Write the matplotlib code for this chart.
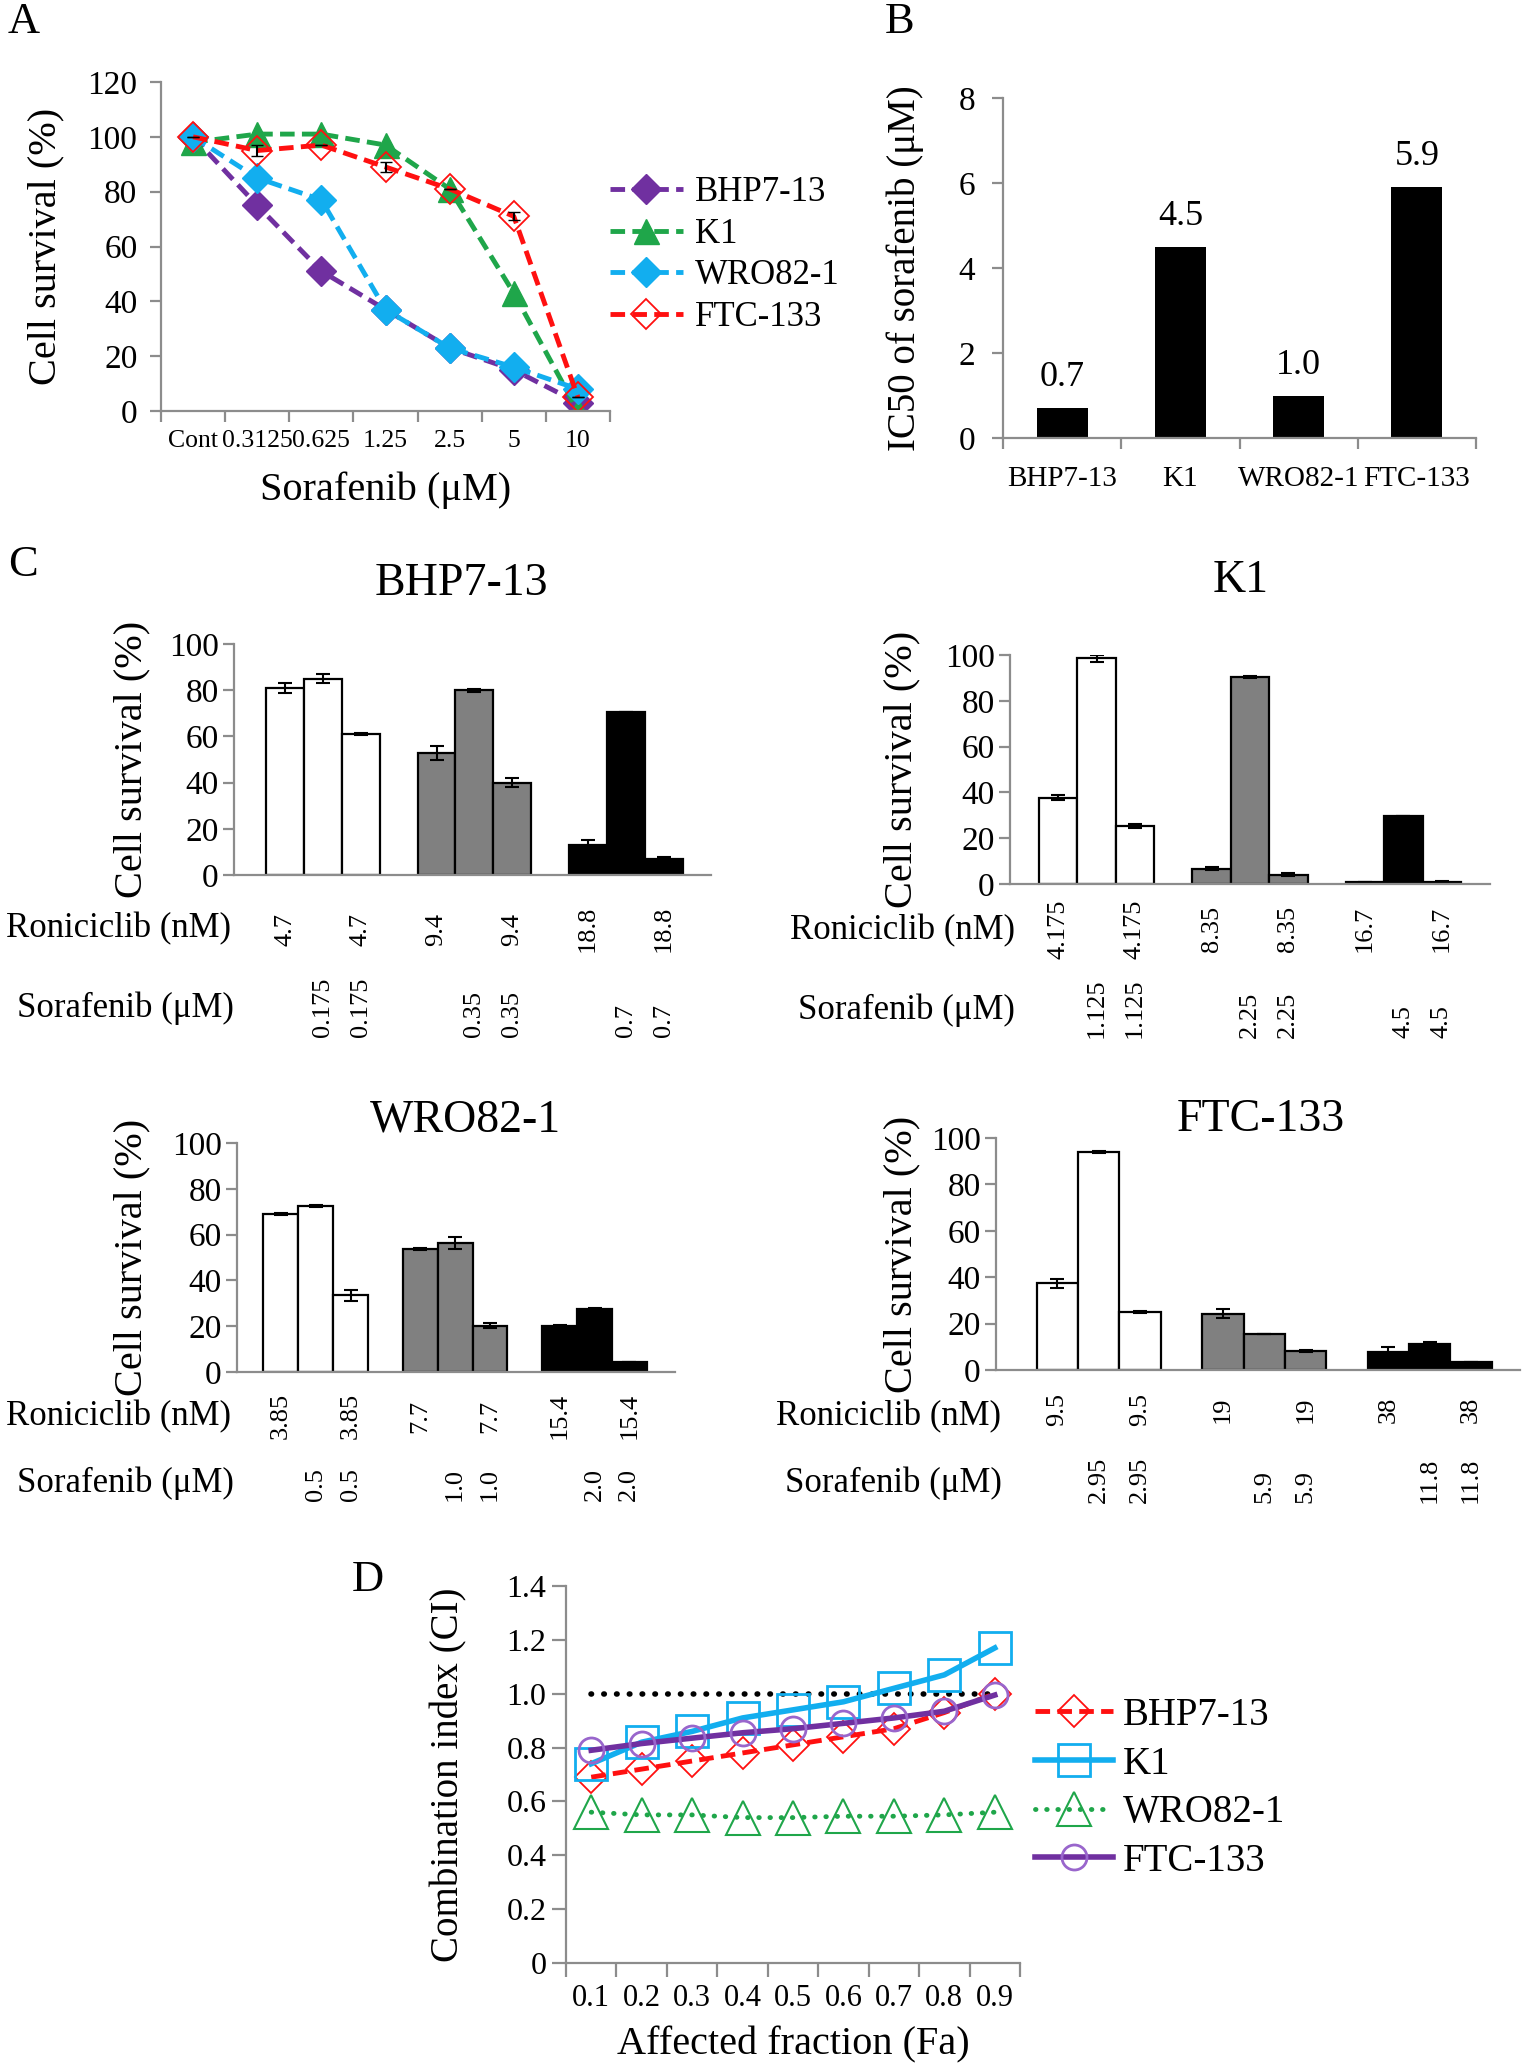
import matplotlib
matplotlib.use('Agg')
from matplotlib import pyplot as plt
from matplotlib.transforms import blended_transform_factory

plt.rcParams['font.family'] = ['Liberation Serif', 'DejaVu Serif']

W, H = 1524, 2070
GREY = '#8c8c8c'

# ---- Panel A: survival vs sorafenib dose ----
doses = ['Cont', '0.3125', '0.625', '1.25', '2.5', '5', '10']
cell_lines = ['BHP7-13', 'K1', 'WRO82-1', 'FTC-133']
surv_bhp = [100, 75, 51, 37, 23, 15, 3]
surv_k1 = [98, 101, 101, 97, 81, 43, 0]
surv_wro = [100, 85, 77, 37, 23, 16, 8]
surv_ftc = [100, 95, 97, 89, 81, 71, 5]
err_ftc = [0, 2, 0, 2, 0, 1.5, 0]

# ---- Panel B: IC50 of sorafenib ----
ic50 = [0.7, 4.5, 1.0, 5.9]

# ---- Panel C: roniciclib + sorafenib combinations ----
bhp_c = [81, 85, 61, 53, 80, 40, 13, 70.5, 7]
bhp_err = [2, 2, 0.5, 3, 0.7, 2, 2, 0, 0.7]
bhp_ron = ['4.7', '', '4.7', '9.4', '', '9.4', '18.8', '', '18.8']
bhp_sor = ['', '0.175', '0.175', '', '0.35', '0.35', '', '0.7', '0.7']

k1_c = [37.7, 98.5, 25.3, 6.7, 90.5, 4.1, 0.7, 29.9, 0.9]
k1_err = [1, 1.5, 1, 0.7, 0.5, 0.5, 0, 0, 0.5]
k1_ron = ['4.175', '', '4.175', '8.35', '', '8.35', '16.7', '', '16.7']
k1_sor = ['', '1.125', '1.125', '', '2.25', '2.25', '', '4.5', '4.5']

wro_c = [69, 72.5, 33.5, 53.7, 56.3, 20.2, 19.9, 27.5, 4.4]
wro_err = [0.5, 0.5, 2.5, 0.3, 2.5, 1, 0.5, 0.5, 0]
wro_ron = ['3.85', '', '3.85', '7.7', '', '7.7', '15.4', '', '15.4']
wro_sor = ['', '0.5', '0.5', '', '1.0', '1.0', '', '2.0', '2.0']

ftc_c = [37.3, 94, 25, 24.2, 15.5, 8.3, 7.9, 11.2, 3.3]
ftc_err = [2, 0.5, 0.5, 2, 0, 0.5, 2, 0.7, 0]
ftc_ron = ['9.5', '', '9.5', '19', '', '19', '38', '', '38']
ftc_sor = ['', '2.95', '2.95', '', '5.9', '5.9', '', '11.8', '11.8']

# ---- Panel D: combination index vs affected fraction ----
fa = ['0.1', '0.2', '0.3', '0.4', '0.5', '0.6', '0.7', '0.8', '0.9']
ci_bhp = [0.69, 0.72, 0.75, 0.78, 0.81, 0.84, 0.87, 0.93, 1.00]
ci_k1 = [0.74, 0.82, 0.86, 0.91, 0.94, 0.97, 1.02, 1.07, 1.17]
ci_wro = [0.56, 0.55, 0.55, 0.54, 0.54, 0.545, 0.545, 0.55, 0.56]
ci_ftc = [0.79, 0.815, 0.835, 0.855, 0.87, 0.89, 0.91, 0.935, 0.995]

fig = plt.figure(figsize=(W / 100, H / 100), dpi=100)


def px_axes(left, top, right, bottom):
    """Axes placed by pixel box (y measured from the top)"""
    return fig.add_axes([left / W, 1 - bottom / H, (right - left) / W, (bottom - top) / H])


def put(x, y, s, **kw):
    fig.text(x / W, 1 - y / H, s, **kw)


def excel_axes(ax, tick_len=8):
    for side in ['top', 'right']:
        ax.spines[side].set_visible(False)
    for side in ['left', 'bottom']:
        ax.spines[side].set_color(GREY)
        ax.spines[side].set_linewidth(1.6)
    ax.tick_params(color=GREY, width=1.6, length=tick_len, direction='out')


def category_ticks(ax, labels, size, pad):
    # Excel style: tick marks between categories, labels at category centres
    n = len(labels)
    ax.set_xlim(-0.5, n - 0.5)
    ax.set_xticks([i - 0.5 for i in range(n + 1)])
    ax.set_xticklabels([])
    ax.set_xticks(range(n), minor=True)
    ax.set_xticklabels(labels, minor=True, fontsize=size)
    ax.tick_params(axis='x', which='minor', length=0, pad=pad)


def ylabel_at(ax, text, x_px, size):
    # centre the rotated label on a given pixel column
    ax.set_ylabel(text, fontsize=size, va='center')
    pos = ax.get_position()
    ax.yaxis.set_label_coords((x_px / W - pos.x0) / pos.width, 0.5)


# ================= A =================
put(8, 2, 'A', fontsize=32, va='top')
ax_a = px_axes(161, 82, 610, 411)
excel_axes(ax_a)
xa = range(len(doses))
dash = (0, (3, 1.5))
ax_a.plot(xa, surv_bhp, linestyle=dash, lw=3.5, color='#7030A0', marker='D', ms=15, label=cell_lines[0])
ax_a.plot(xa, surv_k1, linestyle=dash, lw=3.5, color='#1FA64A', marker='^', ms=18, label=cell_lines[1])
ax_a.plot(xa, surv_wro, linestyle=dash, lw=3.5, color='#12AEEF', marker='D', ms=15, label=cell_lines[2])
ax_a.plot(xa, surv_ftc, linestyle=dash, lw=3.5, color='#FF1010', marker='D', ms=15, mfc='none', mew=1.3,
          label=cell_lines[3])
ax_a.errorbar(xa, surv_ftc, yerr=err_ftc, fmt='none', ecolor='black', elinewidth=1.5, capsize=4)
ax_a.set_ylim(0, 120)
ax_a.set_yticks(range(0, 121, 20))
ax_a.tick_params(axis='y', labelsize=24, pad=9)
category_ticks(ax_a, doses, 18.5, 14)
ax_a.set_xlabel('Sorafenib (μM)', fontsize=29, labelpad=14)
ylabel_at(ax_a, 'Cell survival (%)', 46, 29)
ax_a.legend(loc='upper left', bbox_to_anchor=(610 / W, 1 - 176 / H), bbox_transform=fig.transFigure,
            frameon=False, fontsize=25, handlelength=2.1, handletextpad=0.35, labelspacing=0.25,
            borderpad=0, borderaxespad=0)

# ================= B =================
put(885, 2, 'B', fontsize=32, va='top')
ax_b = px_axes(1003, 98, 1476, 438)
excel_axes(ax_b)
xb = range(len(cell_lines))
bars = ax_b.bar(xb, ic50, width=0.43, color='black')
ax_b.bar_label(bars, fmt='%.1f', padding=10, fontsize=26)
ax_b.set_ylim(0, 8)
ax_b.set_yticks(range(0, 9, 2))
ax_b.tick_params(axis='y', labelsize=24, pad=12)
category_ticks(ax_b, cell_lines, 21, 20)
ylabel_at(ax_b, 'IC50 of sorafenib (μM)', 905, 28)

# ================= C =================
put(8, 545, 'C', fontsize=32, va='top')
panels_c = [
    dict(name='BHP7-13', vals=bhp_c, err=bhp_err, ron=bhp_ron, sor=bhp_sor,
         box=(234, 644, 711, 875), xlim=(-1.35, 11.25), title=(461, 584), ylab=132,
         ron_lab=(119, 929), sor_lab=(125, 1008), ron_y=929, sor_y=1037),
    dict(name='K1', vals=k1_c, err=k1_err, ron=k1_ron, sor=k1_sor,
         box=(1010, 655, 1490, 884), xlim=(-1.26, 11.26), title=(1241, 581), ylab=902,
         ron_lab=(902, 931), sor_lab=(906, 1010), ron_y=929, sor_y=1038),
    dict(name='WRO82-1', vals=wro_c, err=wro_err, ron=wro_ron, sor=wro_sor,
         box=(237, 1143, 675, 1372), xlim=(-1.26, 11.31), title=(465, 1120), ylab=132,
         ron_lab=(119, 1417), sor_lab=(125, 1483), ron_y=1416, sor_y=1501),
    dict(name='FTC-133', vals=ftc_c, err=ftc_err, ron=ftc_ron, sor=ftc_sor,
         box=(996, 1138, 1520, 1370), xlim=(-1.48, 11.18), title=(1261, 1120), ylab=902,
         ron_lab=(889, 1417), sor_lab=(893, 1483), ron_y=1410, sor_y=1503),
]
group_colors = ['white', '#808080', 'black']

for p in panels_c:
    ax = px_axes(*p['box'])
    excel_axes(ax)
    pos = [g * 4 + k for g in range(3) for k in range(3)]
    colors = [group_colors[i // 3] for i in range(9)]
    ax.bar(pos, p['vals'], width=1.0, color=colors, edgecolor='black', linewidth=1.6)
    ax.errorbar(pos, p['vals'], yerr=p['err'], fmt='none', ecolor='black', elinewidth=1.5, capsize=5,
                capthick=1.5)
    ax.set_xlim(*p['xlim'])
    ax.set_ylim(0, 100)
    ax.set_yticks(range(0, 101, 20))
    ax.set_xticks([])
    ax.tick_params(axis='y', labelsize=24, pad=3)
    ylabel_at(ax, 'Cell survival (%)', p['ylab'], 29)
    put(*p['title'], p['name'], fontsize=33, ha='center', va='center')
    put(*p['ron_lab'], 'Roniciclib (nM)', fontsize=25, ha='center', va='center')
    put(*p['sor_lab'], 'Sorafenib (μM)', fontsize=25, ha='center', va='center')
    trans = blended_transform_factory(ax.transData, fig.transFigure)
    for x, s in zip(pos, p['ron']):
        if s:
            ax.text(x, 1 - p['ron_y'] / H, s, transform=trans, rotation=90, ha='center', va='center',
                    fontsize=19)
    for x, s in zip(pos, p['sor']):
        if s:
            ax.text(x, 1 - p['sor_y'] / H, s, transform=trans, rotation=90, ha='center', va='bottom',
                    fontsize=19)

# ================= D =================
put(352, 1560, 'D', fontsize=32, va='top')
ax_d = px_axes(566, 1586, 1020, 1963)
excel_axes(ax_d, tick_len=10)
xd = list(range(len(fa)))
ax_d.plot([xd[0], xd[-1]], [1.0, 1.0], color='black', lw=4, linestyle=(0, (0.1, 2.2)),
          dash_capstyle='round')
ax_d.plot(xd, ci_wro, color='#1FA64A', lw=3.5, linestyle=(0, (0.1, 2.2)), dash_capstyle='round',
          marker='^', ms=24, mfc='none', mew=1.5, label='WRO82-1')
ax_d.plot(xd, ci_bhp, color='#FF1010', lw=3.5, linestyle=dash, marker='D', ms=16, mfc='none', mew=1.3,
          label='BHP7-13')
ax_d.plot(xd, ci_k1, color='#12AEEF', lw=4, marker='s', ms=23, mfc='none', mew=2, label='K1')
ax_d.plot(xd, ci_ftc, color='#7030A0', lw=4, marker='o', ms=18, mfc='none', mec='#9966CC', mew=2,
          label='FTC-133')
ax_d.set_ylim(0, 1.4)
ax_d.set_yticks([0, 0.2, 0.4, 0.6, 0.8, 1.0, 1.2, 1.4])
ax_d.set_yticklabels(['0', '0.2', '0.4', '0.6', '0.8', '1.0', '1.2', '1.4'])
ax_d.tick_params(axis='y', labelsize=23, pad=4)
category_ticks(ax_d, fa, 22, 15)
ax_d.set_xlabel('Affected fraction (Fa)', fontsize=29, labelpad=10)
ylabel_at(ax_d, 'Combination index (CI)', 449, 28)
handles, labels = ax_d.get_legend_handles_labels()
order = [1, 2, 0, 3]
ax_d.legend([handles[i] for i in order], [labels[i] for i in order], loc='upper left',
            bbox_to_anchor=(1035 / W, 1 - 1697 / H), bbox_transform=fig.transFigure, frameon=False,
            fontsize=28, handlelength=2.0, handletextpad=0.25, labelspacing=0.3, borderpad=0,
            borderaxespad=0)

fig.savefig('out.png', dpi=100)
